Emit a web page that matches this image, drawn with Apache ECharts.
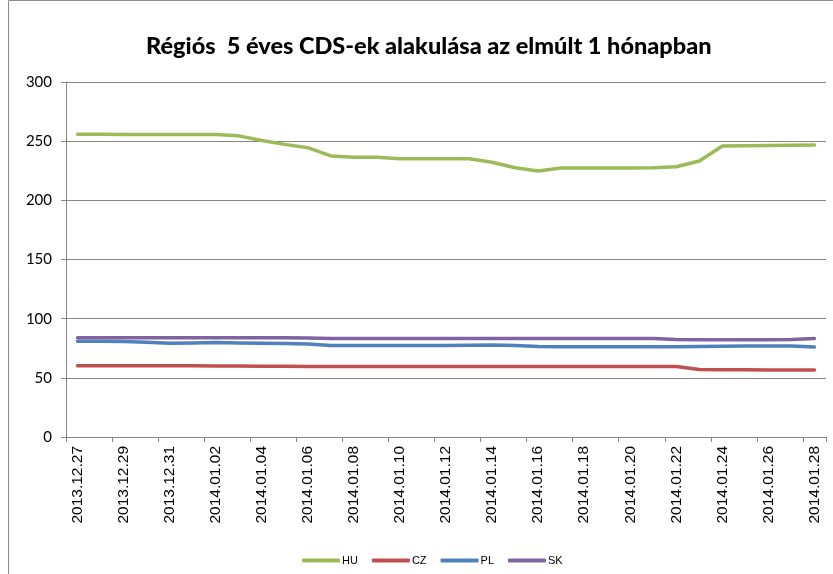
<!DOCTYPE html>
<html>
<head>
<meta charset="utf-8">
<script src="https://cdn.jsdelivr.net/npm/echarts@6/dist/echarts.min.js"></script>
<style>html,body{margin:0;padding:0;background:#fff}#c{width:833px;height:574px}</style>
</head>
<body>
<div id="c"></div>
<script>
const categories = ['2013.12.27','2013.12.28','2013.12.29','2013.12.30','2013.12.31','2014.01.01','2014.01.02','2014.01.03','2014.01.04','2014.01.05','2014.01.06','2014.01.07','2014.01.08','2014.01.09','2014.01.10','2014.01.11','2014.01.12','2014.01.13','2014.01.14','2014.01.15','2014.01.16','2014.01.17','2014.01.18','2014.01.19','2014.01.20','2014.01.21','2014.01.22','2014.01.23','2014.01.24','2014.01.25','2014.01.26','2014.01.27','2014.01.28'];
const HU = [255.8,255.8,255.7,255.7,255.6,255.6,255.6,254.5,250.5,247.3,244.5,237.5,236.4,236.4,235.2,235.2,235.2,235.2,232.2,227.6,224.8,227.4,227.4,227.4,227.4,227.6,228.4,233.2,245.9,246.1,246.3,246.6,246.8];
const CZ = [60.2,60.2,60.2,60.2,60.2,60.2,60.1,60,59.8,59.7,59.6,59.6,59.6,59.6,59.6,59.6,59.6,59.6,59.6,59.6,59.6,59.6,59.6,59.6,59.6,59.6,59.5,57,56.9,56.8,56.7,56.6,56.6];
const PL = [81,81,80.7,80,79.3,79.5,79.8,79.5,79.3,79,78.5,77.4,77.3,77.3,77.3,77.3,77.3,77.5,77.7,77.3,76.4,76.3,76.3,76.3,76.3,76.3,76.3,76.4,76.7,76.8,76.9,76.8,76.1];
const SK = [83.8,83.8,83.8,83.8,83.8,83.8,83.8,83.8,83.8,83.8,83.7,83.3,83.3,83.3,83.3,83.3,83.3,83.3,83.3,83.3,83.3,83.3,83.3,83.3,83.3,83.3,82.4,82.2,82.2,82.2,82.2,82.4,83.3];
const yTicks = [0, 300, 50];

const chart = echarts.init(document.getElementById('c'));
const mk = (name, data, color) => ({
  name, type: 'line', data, showSymbol: false, symbol: 'none', smooth: false,
  lineStyle: {width: 3.5, color, cap: 'round', join: 'round'}, itemStyle: {color}
});
chart.setOption({
  animation: false,
  backgroundColor: '#fff',
  title: {
    text: 'Régiós  5 éves CDS-ek alakulása az elmúlt 1 hónapban',
    left: 141, top: 29,
    textStyle: {fontFamily: 'Lato', fontWeight: 900, fontSize: 23.5, color: '#000'}
  },
  graphic: [{type: 'rect', shape: {x: 8.5, y: 0.5, width: 840, height: 600}, style: {fill: 'none', stroke: '#8c8c8c', lineWidth: 1}, silent: true}],
  legend: {
    bottom: 3, left: 297, itemWidth: 38, itemHeight: 4, itemGap: 14, icon: 'roundRect',
    textStyle: {fontFamily: 'Liberation Sans Narrow, Liberation Sans', fontSize: 11, color: '#000', padding: [0,0,0,-3]},
    data: ['HU','CZ','PL','SK']
  },
  grid: {left: 66, right: 7, top: 82, bottom: 137, containLabel: false},
  xAxis: {
    type: 'category', data: categories, boundaryGap: true,
    axisLine: {lineStyle: {color: '#868686', width: 1}},
    axisTick: {show: true, interval: 1, length: 5, lineStyle: {color: '#868686'}},
    axisLabel: {interval: 1, rotate: 90, margin: 9, fontFamily: 'Liberation Sans', fontSize: 15.5, color: '#000'},
    splitLine: {show: false}
  },
  yAxis: {
    type: 'value', min: yTicks[0], max: yTicks[1], interval: yTicks[2],
    axisLine: {show: true, lineStyle: {color: '#868686'}},
    axisTick: {show: true, length: 5, lineStyle: {color: '#868686'}},
    axisLabel: {fontFamily: 'Lato', fontSize: 15, color: '#000', margin: 14},
    splitLine: {lineStyle: {color: '#868686', width: 1}}
  },
  series: [mk('HU', HU, '#9BBB59'), mk('CZ', CZ, '#C0504D'), mk('PL', PL, '#4F81BD'), mk('SK', SK, '#8064A2')]
});
</script>
</body>
</html>
